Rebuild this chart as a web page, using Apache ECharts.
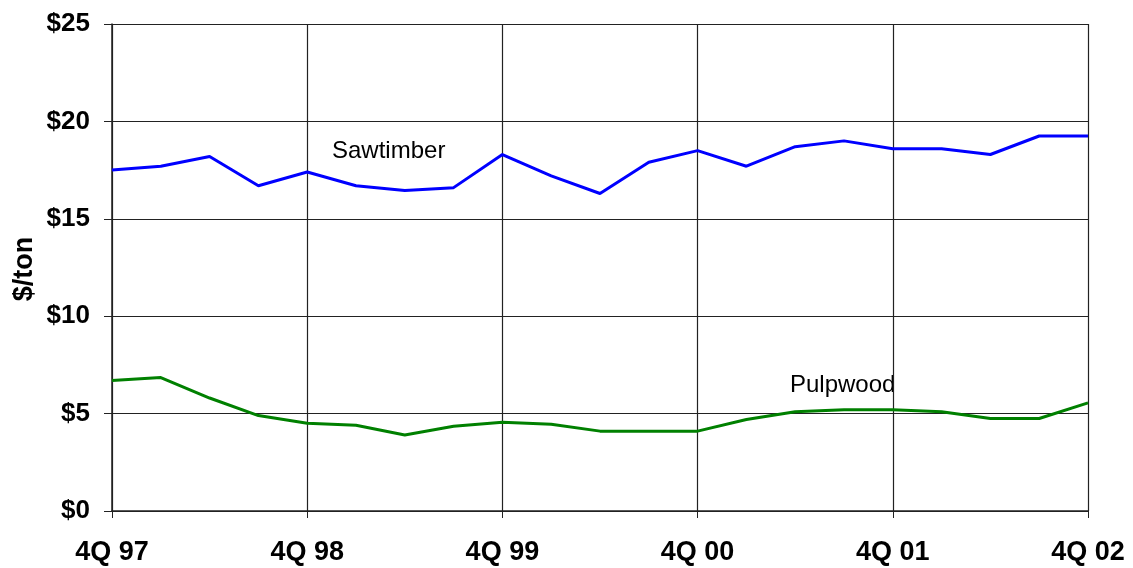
<!DOCTYPE html>
<html>
<head>
<meta charset="utf-8">
<script src="https://cdn.jsdelivr.net/npm/echarts@6/dist/echarts.min.js"></script>
<style>html,body{margin:0;padding:0;background:#fff}#c{width:1133px;height:568px}</style>
</head>
<body>
<div id="c"></div>
<script>
const quarters = ['4Q 97','1Q 98','2Q 98','3Q 98','4Q 98','1Q 99','2Q 99','3Q 99','4Q 99','1Q 00','2Q 00','3Q 00','4Q 00','1Q 01','2Q 01','3Q 01','4Q 01','1Q 02','2Q 02','3Q 02','4Q 02'];
const sawtimber = [17.5,17.7,18.2,16.7,17.4,16.7,16.45,16.6,18.3,17.2,16.3,17.9,18.5,17.7,18.7,19.0,18.6,18.6,18.3,19.25,19.25];
const pulpwood = [6.7,6.85,5.8,4.9,4.5,4.4,3.9,4.35,4.55,4.45,4.1,4.1,4.1,4.7,5.1,5.2,5.2,5.1,4.75,4.75,5.55];
const yTicks = [0,5,10,15,20,25];

const chart = echarts.init(document.getElementById('c'), null, {renderer:'canvas'});
const font = 'Arial, "Liberation Sans", sans-serif';
chart.setOption({
  animation:false,
  backgroundColor:'#fff',
  grid:{left:112,right:45,top:24,bottom:57},
  xAxis:{
    type:'category', data:quarters, boundaryGap:false,
    axisLine:{lineStyle:{color:'#222',width:1.5}},
    axisTick:{interval:3,length:7,lineStyle:{color:'#222'}},
    axisLabel:{interval:3,margin:28,color:'#000',fontWeight:'bold',fontSize:27,fontFamily:font},
    splitLine:{show:true,interval:3,lineStyle:{color:'#222',width:1.2}}
  },
  yAxis:{
    type:'value', min:yTicks[0], max:yTicks[yTicks.length-1], interval:5,
    axisLine:{show:true,lineStyle:{color:'#222',width:1.5}},
    axisTick:{show:true,length:8,lineStyle:{color:'#222'}},
    axisLabel:{margin:22,color:'#000',fontWeight:'bold',fontSize:26,fontFamily:font,formatter:v=>'$'+v},
    splitLine:{show:true,lineStyle:{color:'#222',width:1.2}}
  },
  graphic:[
    {type:'text',left:332,top:139,style:{text:'Sawtimber',font:'24px '+font,fill:'#000'}},
    {type:'text',left:790,top:373,style:{text:'Pulpwood',font:'24px '+font,fill:'#000'}},
    {type:'text',x:25,y:269,rotation:Math.PI/2,style:{text:'$/ton',font:'bold 27px '+font,fill:'#000',align:'center',verticalAlign:'middle'}}
  ],
  series:[
    {name:'Sawtimber',type:'line',data:sawtimber,symbol:'none',lineStyle:{color:'#0000ff',width:3}},
    {name:'Pulpwood',type:'line',data:pulpwood,symbol:'none',lineStyle:{color:'#008000',width:3}}
  ]
});
</script>
</body>
</html>
